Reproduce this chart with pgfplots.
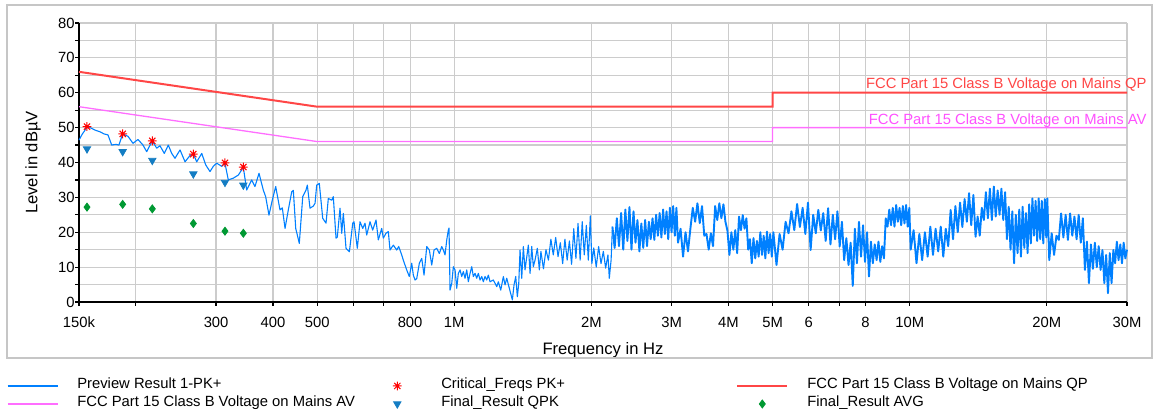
\documentclass[border=0pt]{standalone}
\usepackage{pgfplots}
\pgfplotsset{compat=1.18}
\usepackage{fontspec}
\setmainfont{Liberation Sans}
\setsansfont{Liberation Sans}
\definecolor{trace}{RGB}{0,128,255}
\definecolor{qp}{RGB}{255,70,70}
\definecolor{av}{RGB}{255,110,255}
\definecolor{qptext}{RGB}{255,70,70}
\definecolor{avtext}{RGB}{255,80,255}
\definecolor{qpk}{RGB}{20,125,195}
\definecolor{avg}{RGB}{0,153,51}
\definecolor{crit}{RGB}{255,0,0}
\newcommand\fs{\fontsize{7.4bp}{8.9bp}\selectfont}
\newcommand\lfs{\fontsize{8.3bp}{10bp}\selectfont}
\pgfdeclareplotmark{ast8}{%
  \pgfpathmoveto{\pgfqpoint{-\pgfplotmarksize}{0pt}}\pgfpathlineto{\pgfqpoint{\pgfplotmarksize}{0pt}}%
  \pgfpathmoveto{\pgfqpoint{0pt}{-\pgfplotmarksize}}\pgfpathlineto{\pgfqpoint{0pt}{\pgfplotmarksize}}%
  \pgfpathmoveto{\pgfqpoint{-.707\pgfplotmarksize}{-.707\pgfplotmarksize}}\pgfpathlineto{\pgfqpoint{.707\pgfplotmarksize}{.707\pgfplotmarksize}}%
  \pgfpathmoveto{\pgfqpoint{-.707\pgfplotmarksize}{.707\pgfplotmarksize}}\pgfpathlineto{\pgfqpoint{.707\pgfplotmarksize}{-.707\pgfplotmarksize}}%
  \pgfusepathqstroke}
\begin{document}
\begin{tikzpicture}
\begin{axis}[
  scale only axis, width=524bp, height=139.5bp,
  xmode=log, xmin=0.15, xmax=30, ymin=0, ymax=80,
  xtick={0.15,0.2,0.3,0.4,0.5,0.6,0.7,0.8,1,2,3,4,5,6,7,8,10,20,30},
  xticklabels={150k,,300,400,500,,,800,1M,2M,3M,4M,5M,6,,8,10M,20M,30M},
  xminorticks=false,
  ytick={0,10,...,80}, minor y tick num=1,
  xmajorgrids, ymajorgrids, yminorgrids,
  grid style={draw=gray!40, line width=0.6bp},
  minor grid style={draw=gray!40, line width=0.6bp},
  axis x line*=bottom, axis y line*=left,
  axis line style={-, black, line width=0.65bp},
  tick align=outside, major tick length=2bp, minor tick length=2bp,
  tick style={black, line width=0.6bp},
  /pgf/number format/assume math mode=true,
  xticklabel style={font=\fs, inner sep=0pt, yshift=-5.3bp},
  yticklabel style={font=\fs, inner sep=0pt},
  xlabel={Frequency in Hz}, ylabel={Level in dBµV},
  every axis x label/.style={at={(axis description cs:0.5,-0.172)}, anchor=center, font=\lfs},
  every axis y label/.style={at={(axis description cs:-0.0439,0.5)}, rotate=90, anchor=center, font=\lfs},
  clip=false,
  legend columns=3,
  legend cell align=left,
  legend style={at={(axis description cs:-0.0687,-0.2688)}, anchor=north west, draw=none, fill=none,
    inner sep=0pt, outer sep=0pt, row sep=0pt, column sep=0pt, font=\fs,
    nodes={inner sep=0pt, text height=6bp, text depth=3bp}},
  legend image code/.code={\pgfpathrectangle{\pgfqpoint{0bp}{-2bp}}{\pgfqpoint{25bp}{4bp}}\pgfusepath{discard}%
    \draw[mark repeat=2,mark phase=2,#1] plot coordinates {(0bp,0bp) (12.5bp,0bp) (25bp,0bp)};},
]
\addplot[trace, line width=0.55bp, line join=round, mark=none] table[x=f,y=v] {
f v
0.1500 46.4
0.1523 48.0
0.1545 49.2
0.1562 50.3
0.1586 50.0
0.1626 49.3
0.1668 48.8
0.1702 48.2
0.1737 47.9
0.1770 45.0
0.1809 45.2
0.1836 45.0
0.1871 48.2
0.1922 47.5
0.1971 45.5
0.2021 46.6
0.2073 45.0
0.2112 43.1
0.2173 46.2
0.2222 44.1
0.2259 44.8
0.2309 42.6
0.2356 45.0
0.2397 42.6
0.2437 41.2
0.2500 43.6
0.2564 40.2
0.2629 42.0
0.2674 42.4
0.2720 40.2
0.2790 42.6
0.2847 39.3
0.2909 37.4
0.2958 38.9
0.3009 39.8
0.3087 38.9
0.3138 39.8
0.3191 35.0
0.3273 35.5
0.3357 36.4
0.3443 38.6
0.3502 32.1
0.3592 35.0
0.3652 33.1
0.3727 36.9
0.3809 32.1
0.3855 30.2
0.3920 24.9
0.3986 29.2
0.4055 33.1
0.4144 26.4
0.4193 27.0
0.4251 21.1
0.4322 26.4
0.4397 31.6
0.4433 32.0
0.4487 21.1
0.4569 16.8
0.4649 30.2
0.4727 32.1
0.4758 33.5
0.4823 26.9
0.4904 27.5
0.4947 28.3
0.4989 33.5
0.5055 34.0
0.5143 24.0
0.5230 22.6
0.5291 29.7
0.5383 29.2
0.5426 30.2
0.5501 18.3
0.5537 18.6
0.5613 26.9
0.5662 19.7
0.5708 25.4
0.5786 15.4
0.5884 14.4
0.5904 15.9
0.5986 22.6
0.6025 23.0
0.6126 15.4
0.6211 23.0
0.6296 21.1
0.6370 22.6
0.6425 19.2
0.6533 23.0
0.6622 20.6
0.6734 23.5
0.6813 17.8
0.6931 21.1
0.6987 18.3
0.7083 19.7
0.7166 20.2
0.7228 14.9
0.7350 16.3
0.7477 14.9
0.7553 15.9
0.7669 13.5
0.7731 12.0
0.7865 9.2
0.7969 7.3
0.8066 11.1
0.8132 7.7
0.8202 6.3
0.8273 6.7
0.8382 11.1
0.8485 12.5
0.8584 7.7
0.8702 15.9
0.8817 14.9
0.8925 10.6
0.9029 14.9
0.9153 15.4
0.9274 13.9
0.9387 15.9
0.9464 14.9
0.9545 13.5
0.9628 17.8
0.9706 20.6
0.9740 21.2
0.9790 3.4
0.9874 5.3
0.9955 10.1
1.0041 9.2
1.0127 3.9
1.0209 8.2
1.0298 9.2
1.0386 7.3
1.0471 8.7
1.0561 6.8
1.0652 9.2
1.0739 5.8
1.0832 8.2
1.0925 10.1
1.1014 7.3
1.1109 8.2
1.1205 6.8
1.1296 8.2
1.1393 6.3
1.1492 7.3
1.1585 5.8
1.1685 7.3
1.1786 6.3
1.1882 7.7
1.1984 5.8
1.2186 6.3
1.2397 4.4
1.2498 5.8
1.2650 3.4
1.2818 7.3
1.2929 4.9
1.3040 6.8
1.3213 3.9
1.3415 0.6
1.3530 4.9
1.3647 7.3
1.3758 1.5
1.3856 5.3
1.3947 14.9
1.4068 6.8
1.4182 15.9
1.4304 9.2
1.4545 16.3
1.4671 8.2
1.4797 15.9
1.4917 10.1
1.5045 12.0
1.5222 15.4
1.5377 9.2
1.55 14.5
1.57 9.5
1.59 15.0
1.61 12.0
1.63 18.0
1.65 13.5
1.67 18.5
1.69 13.0
1.71 17.0
1.73 11.0
1.75 18.0
1.77 12.0
1.79 17.5
1.81 10.8
1.83 21.0
1.85 12.5
1.87 22.5
1.89 12.0
1.91 23.0
1.93 13.5
1.95 22.0
1.97 12.0
1.99 24.7
2.005 11.0
2.025 15.5
2.05 10.0
2.075 15.9
2.10 11.0
2.125 14.5
2.15 9.7
2.175 13.5
2.19 6.8
2.21 12.0
2.225 21.6
};
\addlegendentry{\makebox[157bp][l]{\hspace{9.5bp}Preview Result 1-PK+}}
\addplot[only marks, mark=ast8, mark size=2.2bp, crit, line width=0.5bp] coordinates {
(0.1562,50.3) (0.1871,48.2) (0.2173,46.2) (0.2674,42.4) (0.3138,39.9) (0.3443,38.7)};
\addlegendentry{\makebox[157bp][l]{\hspace{9.5bp}Critical\_Freqs PK+}}
\addplot[qp, line width=1bp, mark=none] coordinates {(0.15,66) (0.5,56) (5,56) (5,60) (30,60)};
\addlegendentry{\hspace{9.5bp}FCC Part 15 Class B Voltage on Mains QP}
\addplot[av, line width=0.65bp, mark=none] coordinates {(0.15,56) (0.5,46) (5,46) (5,50) (30,50)};
\addlegendentry{\makebox[157bp][l]{\hspace{9.5bp}FCC Part 15 Class B Voltage on Mains AV}}
\addplot[only marks, mark=triangle*, mark size=2.1bp, mark options={rotate=180, fill=qpk, draw=qpk}] coordinates {
(0.1562,43.9) (0.1871,43.1) (0.2173,40.6) (0.2674,36.7) (0.3138,34.3) (0.3443,33.5)};
\addlegendentry{\makebox[157bp][l]{\hspace{9.5bp}Final\_Result QPK}}
\addplot[only marks, mark=diamond*, mark size=2bp, mark options={fill=avg, draw=avg}] coordinates {
(0.1562,27.2) (0.1871,28.0) (0.2173,26.7) (0.2674,22.5) (0.3138,20.3) (0.3443,19.7)};
\addlegendentry{\hspace{9.5bp}Final\_Result AVG}
% dense continuation of the preview trace (same series, drawn thicker where the sweep is dense)
\addplot[trace, line width=0.95bp, line join=round, mark=none, forget plot] table[x=f,y=v] {
f v
2.225 21.6
2.25 15.5
2.275 24.0
2.30 16.0
2.325 25.5
2.35 15.0
2.375 26.5
2.40 17.5
2.425 27.2
2.45 15.0
2.475 26.0
2.50 17.0
2.525 23.5
2.55 14.5
2.575 22.5
2.60 15.5
2.625 23.5
2.65 16.0
2.675 23.0
2.70 18.0
2.725 24.0
2.75 17.8
2.775 25.0
2.80 19.0
2.825 25.5
2.85 18.5
2.875 26.5
2.90 19.5
2.925 26.0
2.95 18.0
2.975 27.0
3.00 20.0
3.025 27.5
3.05 19.0
3.075 27.0
3.10 17.0
3.14 21.0
3.18 13.0
3.22 20.0
3.26 14.5
3.30 21.0
3.34 27.0
3.38 23.0
3.42 28.3
3.46 22.6
3.50 27.5
3.54 19.0
3.58 19.5
3.62 15.0
3.66 19.7
3.70 16.0
3.74 27.5
3.78 23.5
3.82 28.3
3.86 24.0
3.90 28.0
3.94 23.0
3.98 20.5
4.02 13.5
4.06 20.0
4.10 15.0
4.14 20.6
4.18 14.0
4.22 24.5
4.26 20.6
4.30 24.9
4.34 21.0
4.38 24.0
4.42 15.0
4.46 18.0
4.50 11.1
4.54 18.3
4.58 12.5
4.62 17.5
4.66 13.0
4.70 20.0
4.74 13.5
4.78 19.0
4.82 12.5
4.86 20.2
4.90 14.0
4.94 19.5
4.98 13.0
5.02 20.0
5.10 10.6
5.18 19.5
5.26 15.0
5.34 23.0
5.42 19.7
5.50 26.0
5.58 20.6
5.66 28.1
5.74 21.5
5.82 27.0
5.90 19.5
5.98 28.5
6.06 14.9
6.14 25.0
6.22 19.7
6.30 26.4
6.38 20.5
6.46 25.5
6.54 17.5
6.62 26.9
6.70 16.5
6.78 25.0
6.86 18.0
6.94 26.0
7.02 15.9
7.10 23.0
7.18 12.0
7.26 18.3
7.34 10.6
7.42 17.0
7.50 4.6
7.58 21.0
7.66 11.1
7.74 23.0
7.82 13.0
7.90 22.0
7.98 11.5
8.06 20.0
8.14 7.3
8.22 17.3
8.30 11.1
8.38 16.5
8.46 12.0
8.54 17.3
8.62 11.5
8.70 16.0
8.78 12.5
8.86 24.0
8.94 21.6
9.02 26.5
9.10 22.0
9.18 27.0
9.26 21.6
9.34 27.8
9.42 23.0
9.50 27.0
9.58 22.0
9.66 27.5
9.74 22.5
9.82 27.8
9.90 21.6
9.98 27.0
10.05 15.0
10.20 20.6
10.35 11.1
10.50 19.5
10.65 12.0
10.80 20.0
10.95 13.0
11.10 21.6
11.25 13.5
11.40 21.0
11.55 14.5
11.70 21.6
11.85 13.0
12.00 21.0
12.15 16.0
12.30 26.4
12.45 18.0
12.60 27.5
12.75 20.0
12.90 28.5
13.05 21.5
13.20 29.5
13.35 23.0
13.50 31.2
13.65 22.0
13.80 30.7
13.95 18.7
14.10 24.5
14.25 19.0
14.40 27.0
14.55 23.5
14.70 31.5
14.85 24.0
15.00 32.5
15.15 23.5
15.30 33.1
15.45 24.5
15.60 32.0
15.75 25.0
15.90 32.5
16.05 23.5
16.20 31.5
16.35 18.0
16.50 27.3
16.65 15.0
16.80 26.0
16.95 11.1
17.10 25.0
17.25 14.0
17.40 26.5
17.55 13.0
17.70 27.3
17.85 15.5
18.00 25.5
18.15 14.0
18.30 28.0
18.45 16.8
18.60 29.7
18.75 19.0
18.90 29.0
19.05 17.5
19.20 29.7
19.35 18.0
19.50 29.0
19.65 16.8
19.80 29.5
19.95 18.5
20.05 29.7
20.25 12.0
20.50 19.7
20.75 13.5
21.00 19.0
21.25 17.8
21.50 25.4
21.75 18.5
22.00 25.0
22.25 17.8
22.50 25.4
22.75 19.0
23.00 24.5
23.25 18.0
23.50 25.0
23.75 17.0
24.00 24.0
24.25 9.2
24.50 17.3
24.75 5.4
25.00 16.5
25.25 9.5
25.50 17.0
25.75 10.0
26.00 16.0
26.25 9.2
26.50 14.9
26.75 5.4
27.00 13.5
27.25 2.5
27.50 14.0
27.75 5.4
28.00 14.9
28.25 11.1
28.50 17.3
28.75 12.0
29.00 16.5
29.25 11.1
29.50 17.0
29.75 12.5
30.00 15.0
};
\node[anchor=base east, text=qptext, font=\fs, inner sep=0pt, xshift=10bp, yshift=2.1bp] at (axis cs:30,60) {FCC Part 15 Class B Voltage on Mains QP};
\node[anchor=base east, text=avtext, font=\fs, inner sep=0pt, xshift=10bp, yshift=1.8bp] at (axis cs:30,50) {FCC Part 15 Class B Voltage on Mains AV};
\end{axis}
\draw[gray!45, line width=0.75bp] ([xshift=-36bp,yshift=-28bp]current axis.south west) rectangle ([xshift=12.5bp,yshift=9bp]current axis.north east);
\pgfresetboundingbox
\path ([xshift=-39.5bp,yshift=-56bp]current axis.south west) rectangle ([xshift=13.5bp,yshift=11.5bp]current axis.north east);
\end{tikzpicture}
\end{document}
